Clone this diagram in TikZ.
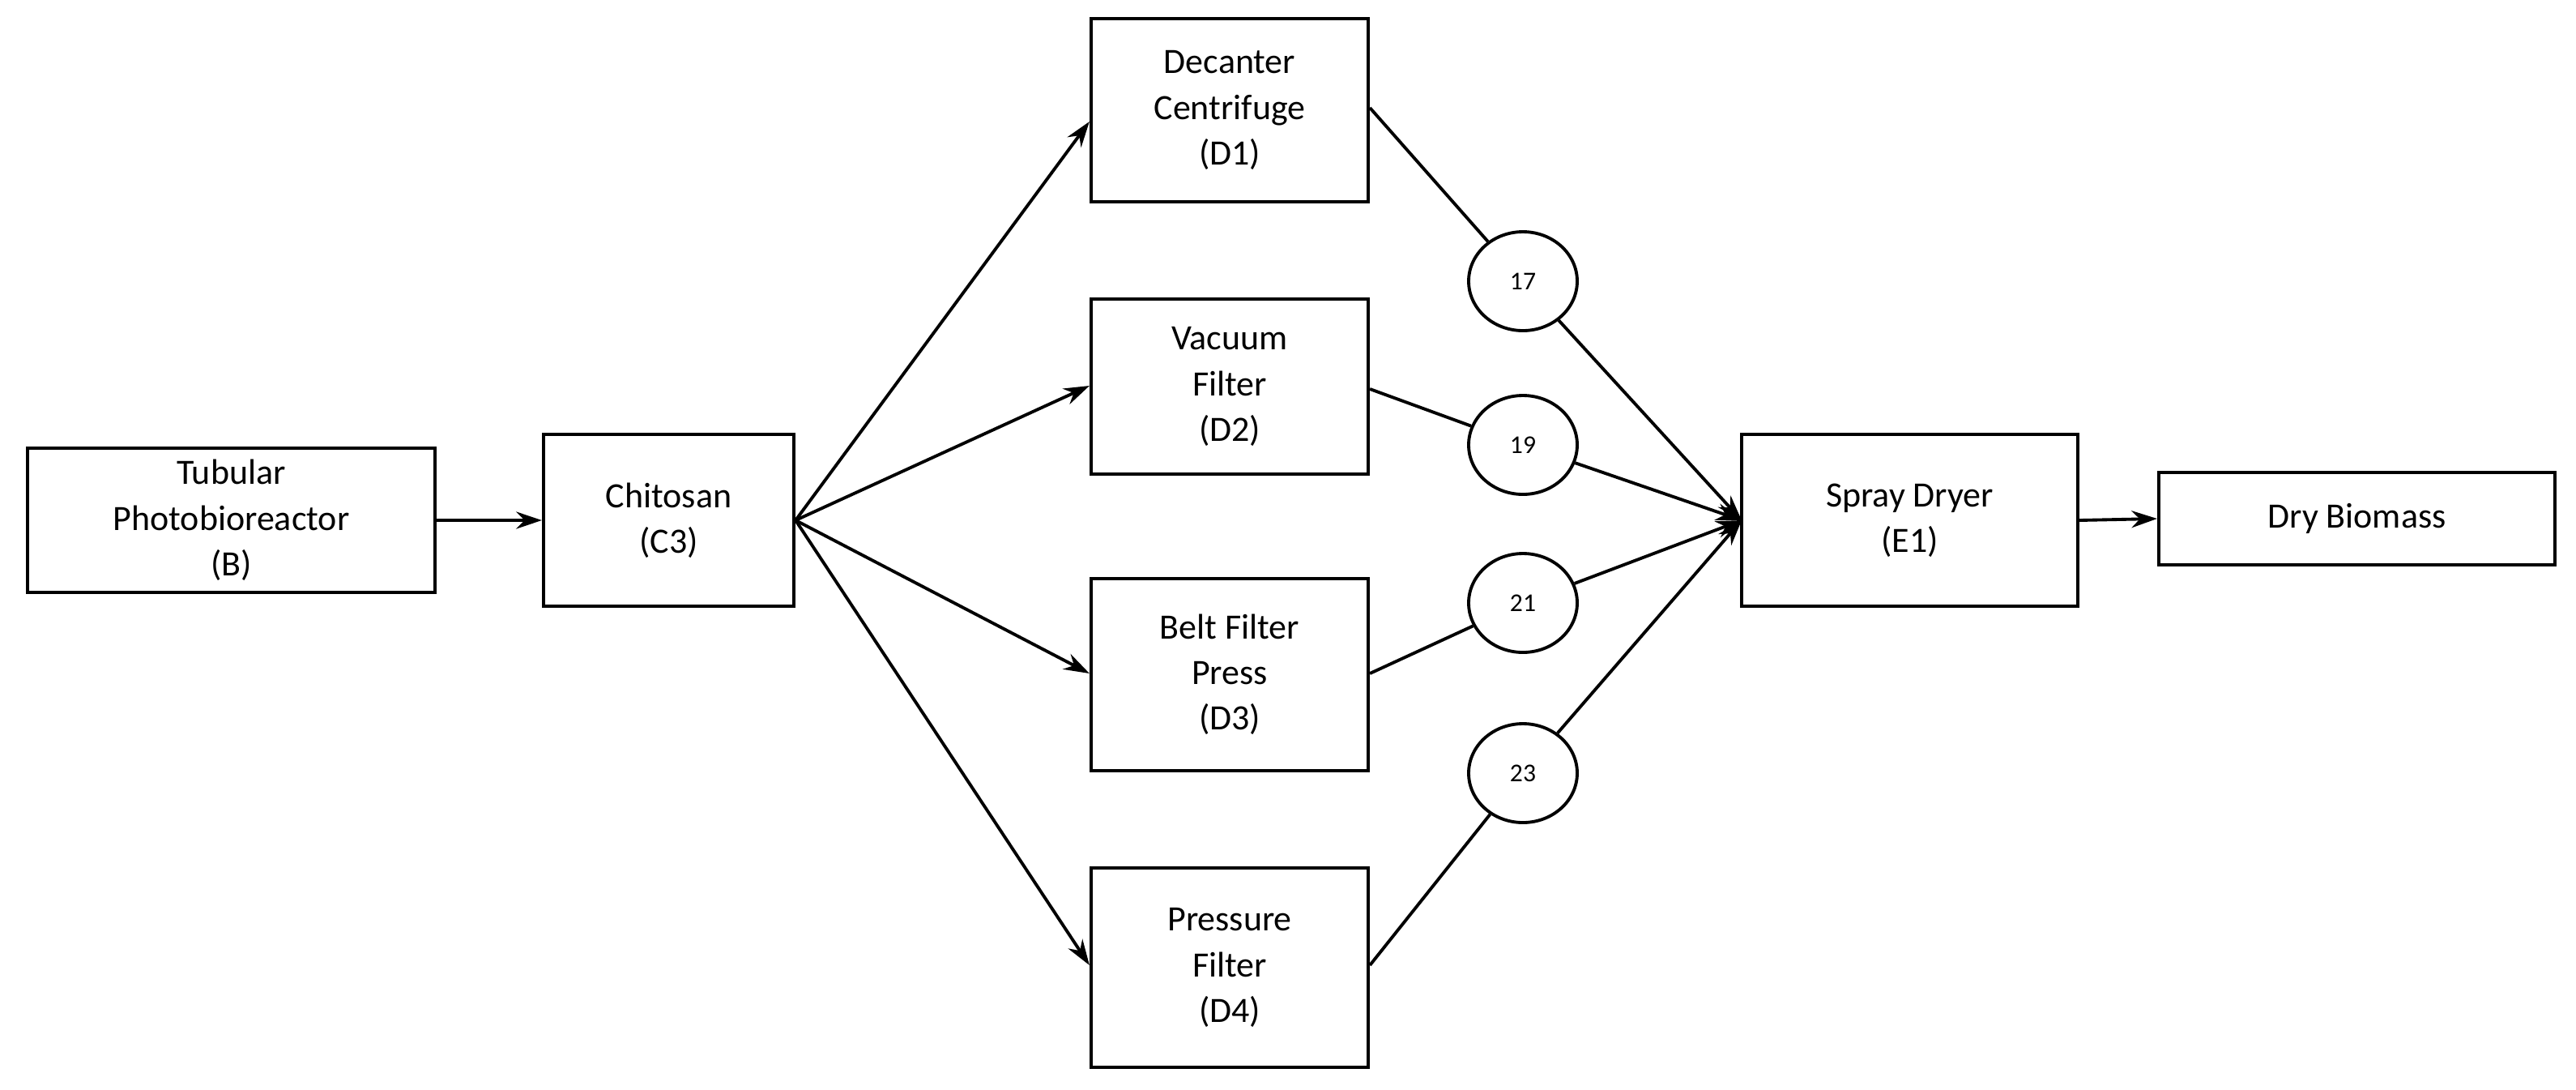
\documentclass[tikz,border=0pt]{standalone}
\usepackage{fontspec}
\setmainfont{Carlito}
\usetikzlibrary{arrows.meta,calc,shapes.geometric}
\begin{document}
\begin{tikzpicture}[x=1cm,y=-1cm,
 box/.style={draw,line width=1.2pt,align=center,font=\fontsize{12.5}{16}\selectfont,inner sep=0pt},
 num/.style={draw,ellipse,line width=1.1pt,minimum width=1.34cm,minimum height=1.22cm,inner sep=0pt,font=\fontsize{9}{10}\selectfont},
 ar/.style={line width=1.1pt,-{Stealth[length=9pt,width=6pt]}},
 ln/.style={line width=1.1pt}]
\useasboundingbox (0,0) rectangle (31.8,13.44);
\node[box,minimum width=5.03cm,minimum height=1.78cm] (b) at (2.855,6.42) {Tubular\\Photobioreactor\\(B)};
\node[box,minimum width=3.09cm,minimum height=2.12cm] (c) at (8.255,6.42) {Chitosan\\(C3)};
\node[box,minimum width=3.42cm,minimum height=2.26cm] (d1) at (15.18,1.36) {Decanter\\Centrifuge\\(D1)};
\node[box,minimum width=3.42cm,minimum height=2.16cm] (d2) at (15.18,4.77) {Vacuum\\Filter\\(D2)};
\node[box,minimum width=3.42cm,minimum height=2.37cm] (d3) at (15.18,8.325) {Belt Filter\\Press\\(D3)};
\node[box,minimum width=3.42cm,minimum height=2.46cm] (d4) at (15.18,11.94) {Pressure\\Filter\\(D4)};
\node[box,minimum width=4.15cm,minimum height=2.12cm] (e) at (23.575,6.42) {Spray Dryer\\(E1)};
\node[box,minimum width=4.89cm,minimum height=1.14cm] (f) at (29.095,6.40) {Dry Biomass};
\node[num] (n17) at (18.8,3.47) {17};
\node[num] (n19) at (18.8,5.49) {19};
\node[num] (n21) at (18.8,7.44) {21};
\node[num] (n23) at (18.8,9.54) {23};
\coordinate (cin) at (21.5,6.42);
\draw[ar] (b) -- (c);
\draw[ar] (c.east) -- ($(d1.west)+(0,0.14)$);
\draw[ar] (c.east) -- ($(d2.west)+(0,-0.01)$);
\draw[ar] (c.east) -- ($(d3.west)+(0,-0.015)$);
\draw[ar] (c.east) -- ($(d4.west)+(0,-0.03)$);
\draw[ln] ($(d1.east)+(0,-0.03)$) -- (n17);
\draw[ln] ($(d2.east)+(0,0.03)$) -- (n19);
\draw[ln] ($(d3.east)+(0,-0.015)$) -- (n21);
\draw[ln] ($(d4.east)+(0,-0.03)$) -- (n23);
\draw[ar] (n17) -- (cin);
\draw[ar] (n19) -- (cin);
\draw[ar] (n21) -- (cin);
\draw[ar] (n23) -- (cin);
\draw[ar] (e.east) -- (f.west);
\end{tikzpicture}
\end{document}
